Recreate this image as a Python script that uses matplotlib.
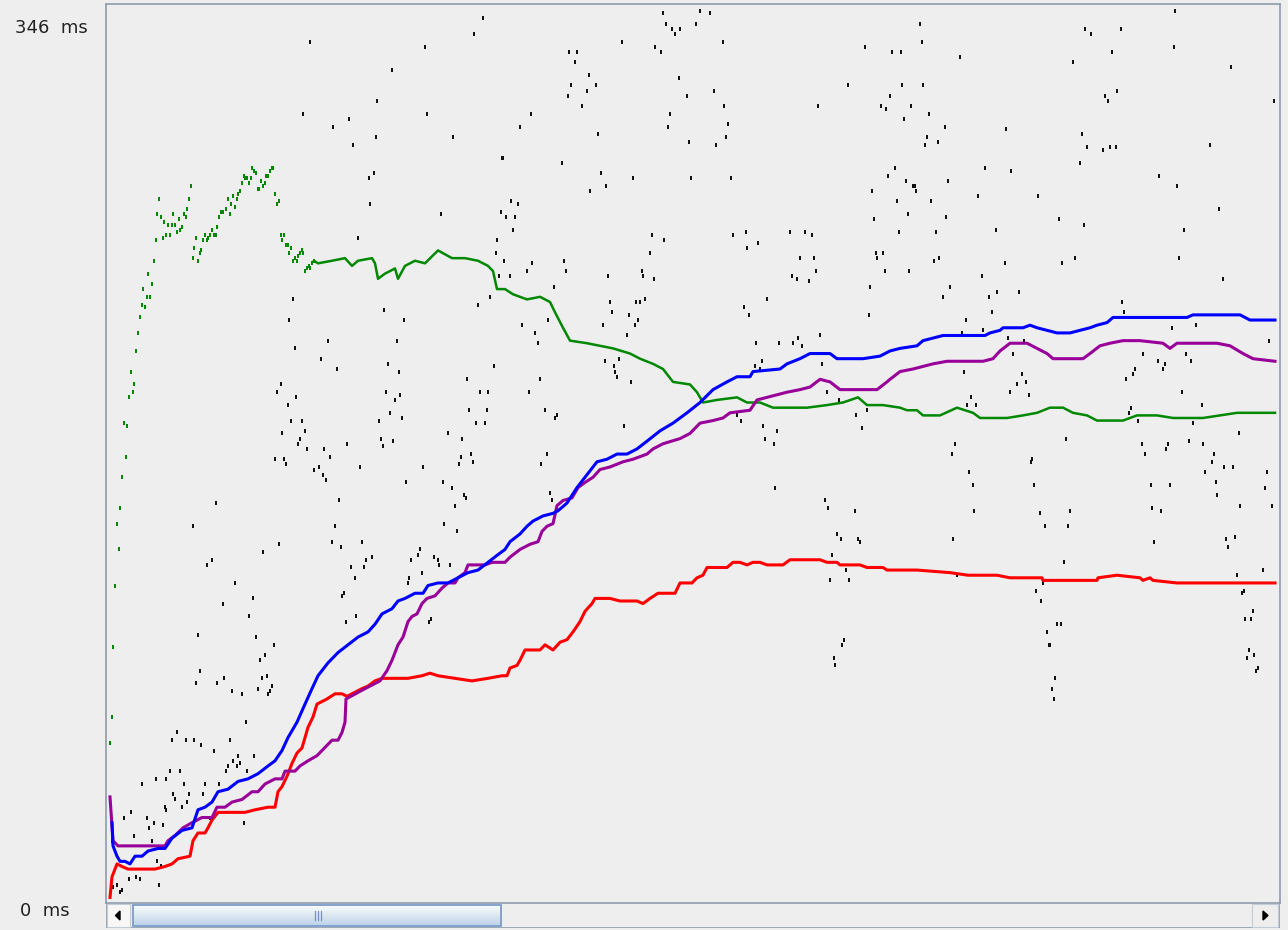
import matplotlib
matplotlib.use("Agg")
import matplotlib.pyplot as plt
import numpy as np
from matplotlib.patches import Rectangle, Polygon

# x = sample number, y = response time in ms
data_pts = [
    (202,333),(195,305),(225,300),(241,303),(245,293),(269,310),(284,322),(317,331),(366,336),(375,342),
    (319,305),(345,296),(268,296),(266,282),(261,280),(262,270),(394,288),(393,267),(333,266),(250,257),
    (389,256),(388,251),(391,242),(370,231),(382,234),(185,233),(181,225),(276,229),(296,225),(187,214),
    (220,217),(213,210),(229,206),(289,217),(280,208),(291,205),(386,207),(359,202),(169,197),(173,200),
    (188,195),(180,192),(278,197),(287,194),(292,196),(282,189),(372,197),(380,197),(361,190),(379,190),
    (368,185),(377,185),(183,186),(194,186),(174,181),(197,182),(192,179),(190,177),(199,175),(216,175),
    (239,177),(271,186),(273,179),(275,176),(285,178),(294,187),(340,181),(354,179),
    (555,344),(592,345),(602,344),(558,340),(564,338),(567,336),(572,338),(588,340),(514,333),(615,333),
    (547,331),(553,329),(461,329),(469,329),(467,325),(481,320),(463,316),(479,314),(488,316),(460,312),
    (474,308),(571,319),(579,312),(606,314),(616,308),(562,305),(560,300),(620,301),(618,296),(581,294),
    (608,293),(423,305),(412,300),(490,297),(395,288),(454,286),(493,282),(498,277),(482,275),(525,280),
    (583,280),(623,280),(403,271),(410,270),(398,265),(407,265),(405,260),(544,258),(556,256),(542,251),
    (625,258),(638,259),(650,255),(639,253),(682,259),(697,259),(704,258),(692,249),(706,249),(684,242),
    (689,241),(701,240),(708,244),(396,248),(402,242),(424,247),(419,244),(456,248),(458,244),(500,242),
    (534,244),(535,242),(546,241),(446,238),(502,232),(528,232),(532,232),(537,233),(504,228),(521,227),
    (530,225),(527,223),(495,223),(440,225),(414,223),(427,220),(430,216),(519,219),(497,209),(511,210),
    (506,207),(507,205),(509,203),(523,201),(432,202),(421,197),(437,190),(449,188),(447,187),(516,184),
    (636,230),(641,227),(659,233),(648,216),(671,216),(685,216),(690,218),(694,215),(712,219),(654,209),
    (647,207),(652,206),(714,208),(719,197),(629,188),(633,186),(655,184),(657,179),(666,177),(669,182),
    (748,188),(754,183),(759,190),(731,194),(757,331),(784,329),(740,316),(782,312),(773,308),(778,307),
    (710,308),(787,284),(780,281),(764,275),(789,271),(766,264),(791,259),(768,251),(775,251),(769,249),
    (777,244),(762,238),(761,227),
    (812,340),(814,333),(793,329),(852,327),(794,316),(815,316),(803,308),(796,303),(821,305),(837,300),
    (819,296),(817,293),(830,294),(798,279),(805,277),(807,277),(808,275),(840,279),(823,271),(800,266),
    (838,265),(828,259),(826,248),(831,249),(801,244),(842,238),(835,234),(877,284),(870,273),(888,260),
    (898,299),(903,283),(930,273),(951,264),(954,247),(967,249),(976,262),(972,286),(974,297),(979,292),
    (965,325),(977,338),(983,336),(1013,338),(1004,329),(997,312),(1000,310),(1009,314),(995,291),(1002,292),
    (1008,292),(1067,345),(1066,331),(1123,323),(1166,310),(1102,293),(1051,281),(1069,277),(1111,268),(1076,260),
    (1071,249),(1115,241),(874,242),(897,247),(881,234),(889,236),(911,236),(884,228),(858,225),(854,220),
    (875,221),(1014,232),(1016,228),(1064,222),(1088,223),(1161,217),(900,218),(905,212),(916,217),(856,205),
    (914,204),(918,201),(909,200),(902,197),(921,196),(863,195),(859,192),(868,192),(1035,212),(1050,209),
    (1057,208),(1055,206),(1078,212),(1083,209),(1027,206),(1025,204),(1018,202),(1074,197),(1094,192),(1023,191),
    (1021,189),(1030,186),(1085,185),(1131,181),(958,179),(847,177),(1034,177),(1060,177),(1058,175),(1081,178),
    (1095,177),
    (222,172),(167,171),(176,171),(178,169),(206,167),(211,168),(215,165),(218,163),(252,168),(315,168),
    (353,172),(363,173),(365,170),(351,169),(298,162),(335,162),(344,160),(356,157),(358,156),(347,153),
    (231,155),(108,154),(85,145),(227,145),(336,146),(349,143),(224,139),(233,137),(254,139),(171,138),
    (155,135),(104,132),(99,130),(243,129),(256,129),(258,132),(264,133),(127,123),(115,115),(145,117),
    (141,110),(234,118),(236,119),(247,125),(248,110),(238,108),(300,123),(301,125),(312,136),(310,134),
    (303,132),(314,127),(326,133),(330,132),(342,130),(331,130),(321,108),(323,109),(90,103),(148,102),
    (166,99),(152,93),(157,95),(92,89),(88,84),(109,84),(116,86),(124,81),(134,80),(150,82),
    (154,86),(159,87),(164,83),(162,81),(160,80),(138,69),(69,65),(64,62),(78,62),(86,62),
    (93,60),(106,58),(122,62),(130,56),(125,54),(129,52),(132,53),(146,56),(120,52),(118,50),
    (139,50),(62,50),(72,50),(48,47),(58,47),(34,45),(76,45),(97,45),(111,45),(65,41),
    (81,41),(95,41),(67,39),(79,38),(74,36),(57,36),(58,35),(39,32),(46,30),(55,29),
    (41,28),(16,32),(23,34),(102,32),(136,30),(26,25),(44,23),(4,23),(49,15),(53,13),
    (28,9),(32,8),(21,8),(51,6),(5,5),(9,6),(12,3),(14,4),
    (439,173),(433,169),(442,158),(444,155),(667,160),(717,155),(720,152),(747,151),(729,142),(733,140),
    (750,140),(752,139),(724,134),(738,128),(722,124),(741,124),(736,101),(734,99),(726,94),(727,91),
    (844,173),(861,166),(865,161),(866,151),(845,140),(849,126),(924,171),(923,170),(926,161),(932,150),
    (937,145),(962,151),(960,145),(956,131),(928,120),(933,116),(935,123),(949,107),(953,107),(939,104),
    (941,99),(942,99),(947,86),(944,82),(946,78),(1037,173),(1106,173),(1104,170),(1097,166),(1108,162),
    (1109,157),(1116,168),(1125,168),(1132,153),(1159,166),(1157,160),(1164,153),(1043,161),(1062,161),(1044,152),
    (1053,151),(1046,139),(1118,140),(1127,141),(1120,137),(1129,126),(1155,128),(1136,120),(1134,119),(1145,112),
    (1137,109),(1143,109),(1141,97),(1139,94),(1146,95),(1150,90),(1148,89),
]

average_pts = [
    (4,30),(5,21),(9,17),(12,15),(17,15),(22,14),(27,17),(34,17),(40,19),(50,20),(57,20),(64,24),
    (74,27),(84,28),(90,35),(97,36),(104,38),(110,42),(120,43),(130,46),(140,47),(150,49),(160,52),
    (167,54),(174,58),(180,63),(189,69),(197,76),(204,82),(210,87),(220,92),(230,96),(240,99),(250,102),
    (260,104),(267,107),(274,111),(284,113),(290,116),(297,117),(307,119),(315,119),(320,122),(330,123),
    (340,123),(350,125),(360,127),(370,128),(380,131),(390,134),(397,136),(402,139),(412,142),(419,145),
    (425,147),(435,149),(445,150),(450,151),(459,154),(469,160),(479,165),(489,170),(499,171),(509,173),
    (519,173),(529,175),(539,178),(552,182),(565,185),(579,189),(592,193),(605,198),(619,201),(629,203),
    (642,203),(645,205),(672,206),(679,208),(692,210),(702,212),(722,212),(729,210),(755,210),(772,211),
    (782,213),(792,214),(809,215),(815,217),(825,218),(835,219),(855,219),(877,219),(882,220),(892,221),
    (895,222),(915,222),(922,223),(929,222),(939,221),(949,220),(962,220),(972,221),(982,222),(989,223),
    (999,224),(1005,226),(1042,226),(1079,226),(1085,227),(1102,227),(1132,227),(1142,225),(1167,225),
]

median_pts = [
    (2,40),(5,23),(10,21),(24,21),(37,21),(57,21),(60,23),(67,25),(75,28),(84,30),(94,32),(104,32),
    (109,36),(117,36),(124,38),(134,39),(144,42),(150,42),(157,45),(167,47),(174,47),(177,50),(187,50),
    (192,52),(200,54),(209,56),(214,58),(224,62),(230,62),(234,65),(237,69),(238,78),(257,82),(272,85),
    (279,89),(284,93),(287,96),(290,99),(295,102),(300,108),(304,110),(309,111),(314,115),(319,117),
    (327,118),(334,121),(340,123),(347,123),(350,125),(357,127),(360,130),(367,130),(377,130),(384,131),
    (397,131),(402,133),(412,136),(422,138),(430,139),(434,143),(439,145),(445,146),(449,153),(455,155),
    (464,156),(470,160),(477,162),(485,164),(492,167),(502,168),(515,170),(525,171),(539,173),(545,175),
    (555,177),(572,179),(582,181),(592,185),(605,186),(615,187),(622,189),(642,190),(649,194),(659,195),
    (669,196),(679,197),(692,198),(702,199),(712,202),(722,201),(732,198),(769,198),(779,201),(782,202),
    (792,205),(805,206),(815,207),(825,208),(839,209),(862,209),(875,209),(885,210),(892,213),(902,216),
    (919,216),(929,214),(939,212),(945,210),(962,210),(975,210),(982,212),(992,215),(1002,216),(1015,217),
    (1032,217),(1055,216),(1062,214),(1069,216),(1109,216),(1122,215),(1135,212),(1145,210),(1167,209),
]

deviation_pts = [
    (2,1),(4,9),(9,14),(14,13),(20,12),(47,12),(57,13),(64,14),(70,16),(82,17),(85,23),(90,26),(97,26),
    (100,28),(104,31),(110,34),(124,34),(137,34),(147,35),(160,36),(167,36),(170,42),(174,44),(179,48),
    (184,53),(189,57),(194,59),(197,63),(200,67),(205,71),(209,76),(214,77),(219,78),(227,80),(234,80),
    (239,79),(244,80),(254,82),(260,83),(267,85),(274,86),(300,86),(314,87),(322,88),(330,87),(347,86),
    (364,85),(380,86),(394,87),(399,87),(402,90),(409,91),(412,93),(417,97),(432,97),(437,99),(445,97),
    (452,100),(459,101),(465,104),(472,108),(477,112),(484,115),(487,117),(502,117),(512,116),(529,116),
    (535,115),(542,117),(550,119),(567,119),(572,123),(584,123),(589,125),(595,126),(599,129),(619,129),
    (625,131),(632,131),(639,130),(645,131),(652,131),(659,130),(675,130),(682,132),(712,132),(719,131),
    (729,131),(732,130),(752,130),(759,129),(775,129),(779,128),(809,128),(842,127),(860,126),(889,126),
    (902,125),(934,125),(935,124),(989,124),(990,125),(1009,126),(1032,125),(1035,124),(1042,125),
    (1045,124),(1069,123),(1114,123),(1167,123),
]

# throughput: sparse dots at the start, dense afterwards
throughput_early = [
    (2,61),(4,71),(5,98),(7,122),(9,146),(11,136),(12,152),(14,164),(16,185),(18,172),(19,184),(21,195),
    (23,205),(25,197),(26,200),(28,213),(30,220),(32,226),(34,231),(35,237),(37,230),(39,234),(40,243),
    (42,234),(44,239),(46,248),(48,256),(49,266),(51,272),(53,265),(55,257),(56,263),(58,258),(60,262),
    (62,258),(64,262),(65,266),(67,262),(69,259),(71,264),(72,260),(74,261),(76,266),(78,265),(79,268),
    (81,272),(83,277),(85,249),(86,253),(88,257),(90,248),(92,251),(93,252),(95,256),(97,258),(99,256),
    (100,257),(102,258),(104,260),(106,258),(108,258),(109,261),(111,265),(113,267),(115,267),(118,268),
    (120,272),(122,266),(123,270),(125,273),(127,269),(129,272),(130,274),(132,275),(134,278),(136,281),
    (137,280),(139,280),(141,278),(143,280),(144,284),(146,283),(148,282),(150,276),(151,276),(153,279),
    (155,277),(157,278),(158,281),(160,281),(162,283),(164,284),(165,284),(167,274),(169,270),(171,271),
    (173,258),(174,256),(176,258),(178,254),(180,254),(181,251),(183,253),(185,248),(187,249),(189,248),
    (190,250),(192,251),(194,252),(195,251),(197,244),(199,245),(201,246),(202,245),(204,247),(206,248),
]
throughput_pts = [
    (206,248),(210,247),(224,248),(237,249),(244,246),(250,248),(264,249),(267,247),(270,241),(277,243),
    (287,245),(290,241),(297,246),(307,248),(317,247),(330,252),(344,249),(357,249),(370,248),(380,246),
    (385,244),(389,237),(397,237),(405,235),(419,233),(432,234),(442,232),(447,228),(455,222),(462,217),
    (479,216),(492,215),(505,214),(522,212),(532,210),(545,208),(555,206),(565,201),(582,200),(589,197),
    (595,193),(609,194),(629,195),(639,193),(652,193),(665,191),(682,191),(699,191),(719,192),(735,193),
    (750,195),(759,192),(775,192),(792,191),(799,190),(809,190),(815,188),(832,188),(849,191),(865,189),
    (872,187),(899,187),(915,188),(929,189),(942,191),(955,191),(965,189),(979,188),(989,186),(1015,186),
    (1029,188),(1049,188),(1065,187),(1095,187),(1112,188),(1129,189),(1142,189),(1167,189),
]

BG = "#eeeeee"
BORDER = "#8d9cab"
W, H = 1288, 930

fig = plt.figure(figsize=(W / 100, H / 100), dpi=100, facecolor=BG)
ax = fig.add_axes([106 / W, 27 / H, 1174 / W, 899 / H])
ax.set_facecolor(BG)
ax.set_xlim(-2, 1172)
ax.set_ylim(-1.16, 347.6)
ax.set_xticks([])
ax.set_yticks([])
for sp in ax.spines.values():
    sp.set_color(BORDER)
    sp.set_linewidth(1.2)

# small upright dash, like the java points
dash = [(-1, -1.5), (1, -1.5), (1, 1.5), (-1, 1.5), (-1, -1.5)]

dx, dy = zip(*data_pts)
ax.plot(dx, dy, ls="none", marker=dash, ms=2.6, mew=0, color="#111111", zorder=2)

gx, gy = zip(*throughput_early)
ax.plot(gx, gy, ls="none", marker=dash, ms=2.6, mew=0, color="#008800", zorder=3)
gx, gy = zip(*throughput_pts)
ax.plot(gx, gy, color="#008800", lw=1.8, zorder=3)

for pts, col in [(deviation_pts, "#ff0000"), (median_pts, "#990099"), (average_pts, "#0000ff")]:
    xs, ys = zip(*pts)
    ax.plot(xs, ys, color=col, lw=2.2, zorder=4)

fig.text(15 / W, 1 - 28 / H, "346  ms", fontsize=13, color="#222222", va="center", ha="left")
fig.text(20 / W, 1 - 911 / H, "0  ms", fontsize=13, color="#222222", va="center", ha="left")

# horizontal scrollbar under the graph
sb = fig.add_axes([106 / W, 2 / H, 1174 / W, 25 / H])
sb.set_xlim(0, 1174)
sb.set_ylim(0, 25)
sb.axis("off")
sb.add_patch(Rectangle((0, 0), 1174, 25, facecolor=BG, edgecolor=BORDER, lw=1.2))
sb.add_patch(Rectangle((1, 1), 23, 23, facecolor="#f7f7f7", edgecolor="#c3ccd6", lw=0.8))
sb.add_patch(Polygon([(9.5, 12.5), (14, 8), (14, 17)], closed=True, color="black"))
grad = np.linspace(1, 0, 32).reshape(-1, 1)
thumb_cmap = matplotlib.colors.LinearSegmentedColormap.from_list("t", ["#bcd2e8", "#ffffff"])
sb.imshow(grad, extent=(27, 395, 2, 23), aspect="auto", cmap=thumb_cmap, zorder=2)
sb.add_patch(Rectangle((27, 2), 368, 21, facecolor="none", edgecolor="#7b9ccc", lw=1.3, zorder=3))
for gxp in (209, 212, 215):
    sb.plot([gxp, gxp], [8, 17], color="#7a90c0", lw=0.9, zorder=4)
sb.add_patch(Rectangle((1146, 1), 26, 23, facecolor=BG, edgecolor="#c3ccd6", lw=0.8))
sb.add_patch(Polygon([(1157, 8), (1157, 17), (1162, 12.5)], closed=True, color="black"))

fig.savefig("out.png", dpi=100, facecolor=BG)
